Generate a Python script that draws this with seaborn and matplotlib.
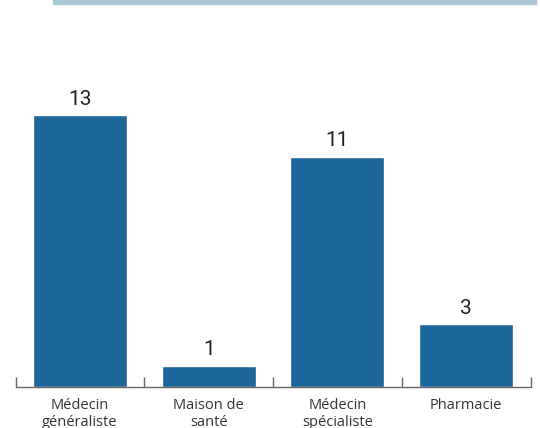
import matplotlib
matplotlib.use("Agg")
import matplotlib.pyplot as plt
import seaborn as sns
import pandas as pd
from matplotlib.patches import Rectangle

categories = ["Médecin\ngénéraliste", "Maison de\nsanté", "Médecin\nspécialiste", "Pharmacie"]
values = [13, 1, 11, 3]

sns.set_theme(style="white")
plt.rcParams['font.family'] = ['Open Sans', 'DejaVu Sans']

df = pd.DataFrame({"cat": categories, "val": values})

fig = plt.figure(figsize=(5.4, 4.28), dpi=100)
ax = fig.add_axes([15.6/540, (428-386.6)/428, 515/540, 313.5/428])
sns.barplot(data=df, x="cat", y="val", color="#1c6699", saturation=1, width=0.73, ax=ax)

ax.set_xlim(-0.5, 3.5)
ax.set_ylim(0, 15)
for i, v in enumerate(values):
    ax.text(i, v + 0.3, str(v), ha="center", va="bottom", fontsize=15,
            family=["Roboto", "DejaVu Sans"], color="#222222")

for s in ["top", "right", "left"]:
    ax.spines[s].set_visible(False)
ax.spines["bottom"].set_color("#666666")
ax.spines["bottom"].set_linewidth(1.0)
ax.set_yticks([])
ax.set_xlabel("")
ax.set_ylabel("")
ax.set_xticks(range(len(categories)))
ax.set_xticklabels(categories, fontsize=10.5, color="#333333", linespacing=1.25)
ax.tick_params(axis="x", which="major", length=0, pad=8)
ax.set_xticks([-0.5, 0.5, 1.5, 2.5, 3.5], minor=True)
ax.tick_params(axis="x", which="minor", direction="in", length=7, width=1, color="#666666", bottom=True)

fig.patches.append(Rectangle((53/540, 1 - 4/428), (535.6-53)/540, 4/428,
                             transform=fig.transFigure, color="#a7c8d4", zorder=0))

fig.savefig("out.png", dpi=100)
